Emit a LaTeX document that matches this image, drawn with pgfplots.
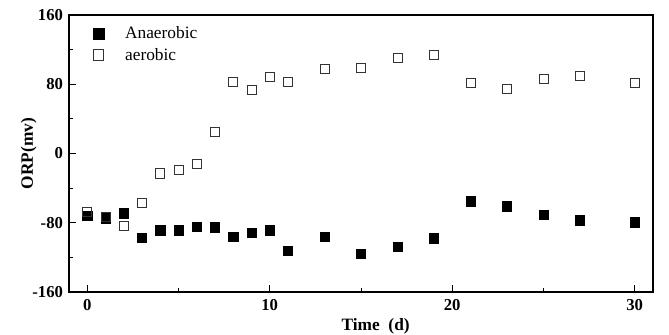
\documentclass[border=0pt]{standalone}
\usepackage{pgfplots}
\pgfplotsset{compat=1.18}
\usepackage{fontspec}
\setmainfont{Liberation Serif}
\pgfplotstableread{
x y
0 -72
1 -75
2 -69
3 -97.5
4 -88.5
5 -88.5
6 -84.6
7 -85.4
8 -96
9 -91.6
10 -88.5
11 -112.5
13 -96
15 -116
17 -107.8
19 -98
21 -55
23 -61
25 -70.7
27 -77
30 -79.6
}\anaerobic
\pgfplotstableread{
x y
0 -68
1 -73
2 -83.5
3 -57.6
4 -23
5 -18.5
6 -12
7 24.7
8 82.7
9 73.8
10 89
11 82.7
13 97.4
15 99.3
17 110
19 114
21 81.5
23 75
25 85.8
27 89.6
30 81.5
}\aerobic
\begin{document}
\begin{tikzpicture}
\begin{axis}[
  at={(0,0)}, anchor=south west,
  scale only axis,
  width=438pt, height=207.75pt,
  xmin=-1, xmax=31, ymin=-160, ymax=160,
  xtick={0,10,20,30}, minor xtick={5,15,25},
  ytick={-160,-80,0,80,160}, minor ytick={-120,-40,40,120},
  xtick pos=bottom, ytick pos=left,
  tick align=inside,
  major tick length=5pt, minor tick length=3pt,
  axis line style={line width=0.9pt},
  every tick/.style={line width=0.6pt, black},
  tick label style={font=\fontsize{12.5}{14}\selectfont\bfseries},
  /pgf/number format/assume math mode=true,
  yticklabel style={xshift=-1pt},
  xticklabel style={yshift=-2pt},
  xlabel={Time~~(d)},
  ylabel={ORP(mv)},
  label style={font=\fontsize{13}{15}\selectfont\bfseries},
  xlabel style={yshift=1pt, xshift=11pt},
  ylabel style={yshift=-10pt},
  legend style={at={(0.034,0.978)}, anchor=north west, draw=none, fill=none,
    font=\fontsize{13}{15}\selectfont, row sep=1.5pt,
    /tikz/every odd column/.append style={column sep=14pt}},
  legend cell align=left,
  legend image post style={mark size=4pt},
]
\addplot[only marks, mark=square*, mark size=3.5pt, mark options={fill=black, draw=black}] table[x=x,y=y] {\anaerobic};
\addlegendentry{Anaerobic}
\addplot[only marks, mark=square, mark size=3.4pt, mark options={draw=black!80, line width=0.6pt}] table[x=x,y=y] {\aerobic};
\addlegendentry{aerobic}
\end{axis}
\pgfresetboundingbox
\useasboundingbox (-51.75pt,-32.25pt) rectangle (450pt,219pt);
\end{tikzpicture}
\end{document}
